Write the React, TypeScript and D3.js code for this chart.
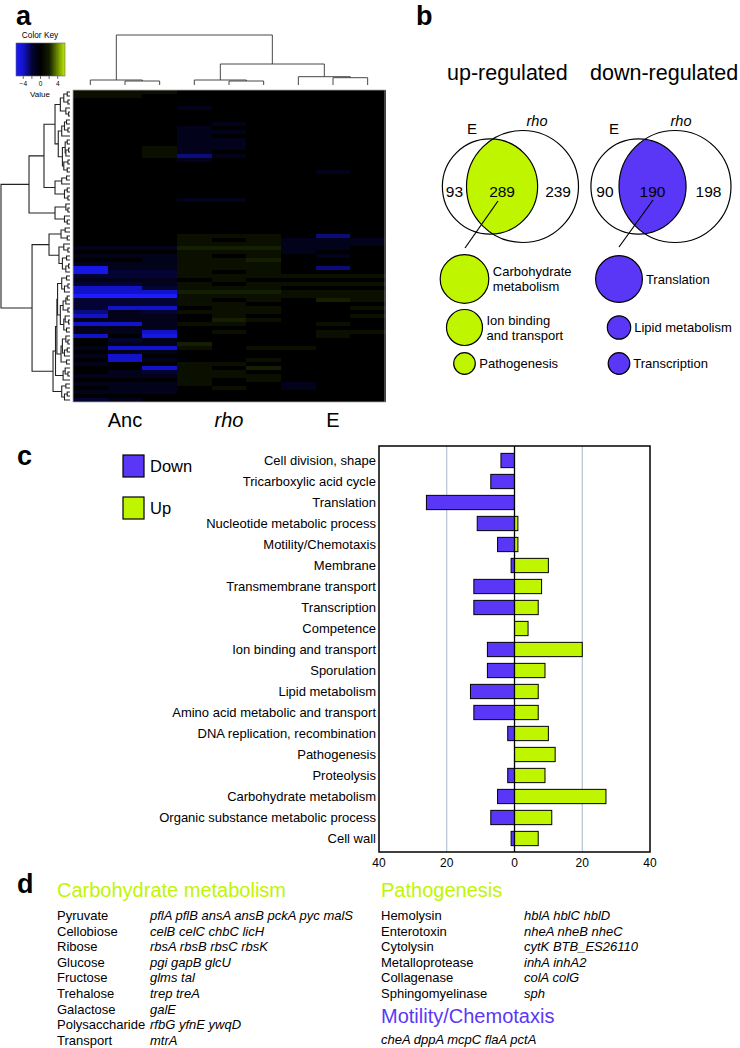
import React from 'react';
import * as d3 from 'd3';

// ---------- data ----------
// panel a: heatmap (rows x 9 samples: Anc1-3, rho1-3, E1-3)
const heatRows: number[][] = [
  [1, 1, 1, 0, 0, 0, 0, 0, 0],
  [1, 1, 0, 0, 0, 0, 0, 0, 0],
  [0, 0, 0, 0, 0, 0, 0, 0, 0],
  [0, 0, 0, 0, 0, 0, 0, 0, 0],
  [0, 0, 0, -1, 0, 0, 0, 0, 0],
  [0, 0, 0, 0, 0, 0, 0, 0, 0],
  [0, 0, 0, 0, 0, 0, 0, 0, 0],
  [0, 0, 0, 0, 0, 0, 0, 0, 0],
  [0, 0, 0, 0, -1, 0, 0, 0, 0],
  [0, 0, 0, -1, 0, 0, 0, 0, 0],
  [0, 0, 0, -1, -1, 0, 0, 0, 0],
  [0, 0, 0, -1, 0, 0, 0, 0, 0],
  [0, 0, 0, -1, -1, 0, 0, 0, 0],
  [0, 0, 0, -1, -1, 0, 0, 0, 0],
  [0, 0, 1, -1, -1, 0, 0, 0, 0],
  [0, 0, 1, -1, 0, 0, 0, 0, 0],
  [0, 0, 1, -3, -1, 0, 0, 0, 0],
  [0, 0, 0, -1, 0, 0, 0, 0, 0],
  [0, 0, 0, 0, 0, 0, 0, 0, 0],
  [0, 0, 0, 0, 0, 0, 0, 0, 0],
  [0, 0, 0, 0, 0, 0, 0, -1, 0],
  [0, 0, 0, 0, 0, 0, 0, 0, 0],
  [0, 0, 0, 0, 0, 0, 0, 0, 0],
  [0, 0, 0, 0, 0, 0, 0, 0, 0],
  [0, 0, 0, 0, 0, 0, 0, 0, 0],
  [0, 0, 0, 0, 0, 0, 0, 0, 0],
  [0, 0, 0, 0, 0, 0, 0, 0, 0],
  [0, 0, 0, -1, -1, 0, 0, 0, 0],
  [0, 0, 0, 0, 0, 0, 0, 0, 0],
  [0, 0, 0, 0, 0, 0, 0, 0, 0],
  [0, 0, 0, 0, 0, 0, 0, 0, 0],
  [0, 0, 0, 0, 0, 0, 0, 0, 0],
  [0, 0, 0, 0, 0, 0, 0, 0, 0],
  [0, 0, 0, 0, 0, 0, 0, 0, 0],
  [0, 0, 0, 0, 0, 0, 0, 0, 0],
  [0, 0, 0, 0, 0, 0, 0, 0, 0],
  [0, 0, 0, 1, 1, 1, 0, -3, 0],
  [0, 0, 0, 1, 0, 1, -1, -1, -1],
  [0, 0, 0, 1, 1, 1, -1, -1, -1],
  [-1, -1, -1, 2, 2, 2, -1, -1, 0],
  [0, 0, 0, 1, 1, 1, -1, 0, 0],
  [-1, -1, -1, 1, 0, 1, 0, -1, 0],
  [0, 0, -1, 1, 1, 2, 0, 0, 0],
  [-1, -1, -1, 1, 1, 1, 0, 0, 0],
  [-5, -1, -1, 1, 1, 1, 0, -3, 0],
  [-5, -2, -2, 1, 0, 1, 0, 0, 0],
  [-2, -2, -2, 1, 1, 1, 1, 1, 1],
  [-1, -1, -1, 0, 1, 0, 0, 0, 0],
  [-2, -2, -1, 1, 0, 1, 1, 1, 1],
  [-4, -4, -2, 1, 1, 1, 0, 0, 0],
  [-4, -4, -4, 2, 2, 2, 1, 1, 1],
  [-6, -6, -6, 1, 1, 1, 1, 1, 1],
  [-2, -2, -2, 1, 0, 1, 0, 2, 1],
  [-2, -2, -2, 1, 1, 0, 0, 0, 0],
  [-2, -4, -4, 0, 1, 1, 0, 0, 1],
  [-3, -1, -2, 1, 1, 1, 0, 0, 0],
  [-4, -1, -1, 0, 1, 0, 0, 0, 1],
  [-1, -1, -1, 0, 2, 1, 0, 0, 0],
  [-4, -4, -1, 1, 1, 0, 0, 1, 0],
  [-1, -1, -1, 0, 0, 0, 0, 0, 0],
  [-1, -1, -4, 0, 1, 0, 0, 1, 1],
  [-4, 0, -5, 0, 0, 0, 0, 1, 0],
  [0, -2, -1, 0, 0, 0, 0, 0, 0],
  [0, -1, -1, 2, 0, 0, 0, 0, 0],
  [-1, -4, -4, 1, 0, 1, 1, 0, 0],
  [0, -1, -1, 0, 0, 0, 0, 0, 0],
  [-1, -4, 0, 0, 0, 0, 0, 0, 0],
  [0, -4, -1, 0, 0, 1, 0, 0, 0],
  [-1, 0, 0, 1, 1, 0, 0, 0, 0],
  [0, 0, -4, 1, 0, 2, 0, 0, 0],
  [0, -1, -2, 1, 1, 0, 0, 0, 0],
  [-1, -1, -1, 1, 1, 1, 0, 0, 0],
  [0, 0, 0, 1, 0, 1, 0, 0, 0],
  [-1, -1, -1, 1, 0, 0, -1, 0, 0],
  [0, -1, -1, 0, 1, 0, -1, 0, 0],
  [-1, -1, -1, 0, 0, 0, 0, 0, 0],
  [0, 0, 0, 0, 0, 0, 0, 0, 0],
  [-2, -1, 0, 0, 0, 0, 0, 0, 0],
];
// merge height between neighbouring rows / columns (ordered dendrograms)
const rowGaps = [
  4, 9, 3, 14, 6, 2, 21.7, 5, 8, 3, 12, 17, 4, 7, 2, 6, 11, 3, 9, 4,
  37.7,
  5, 12, 21.7, 4, 8, 3,
  59.4,
  6, 3, 21.7, 8, 4,
  100,
  7, 13, 4, 30.4, 9, 3, 16, 5, 11, 2, 6,
  55,
  5, 12, 3, 8, 18, 4, 6, 10, 3, 14, 7, 2, 9, 5, 19, 6, 3, 11, 4, 8, 13, 5, 21, 7, 3, 10, 24.6, 6, 12, 4, 8,
];
const colGaps = [10, 8, 100, 10, 8, 42, 16.6, 14.6];
const groupLabels = ['Anc', 'rho', 'E'];
const keyTicks = [-4, -2, 0, 2, 4];
const keyTickLabels = ['\u22124', '', '0', '', '4'];

// panel b
const upCounts = [93, 289, 239];
const downCounts = [90, 190, 198];
const upTerms = ['Carbohydrate metabolism', 'Ion binding and transport', 'Pathogenesis'];
const upTermLines = [['Carbohydrate', 'metabolism'], ['Ion binding', 'and transport'], ['Pathogenesis']];
const downTerms = ['Translation', 'Lipid metabolism', 'Transcription'];

// panel c
const categories = [
  'Cell division, shape', 'Tricarboxylic acid cycle', 'Translation', 'Nucleotide metabolic process',
  'Motility/Chemotaxis', 'Membrane', 'Transmembrane transport', 'Transcription', 'Competence',
  'Ion binding and transport', 'Sporulation', 'Lipid metabolism', 'Amino acid metabolic and transport',
  'DNA replication, recombination', 'Pathogenesis', 'Proteolysis', 'Carbohydrate metabolism',
  'Organic substance metabolic process', 'Cell wall',
];
const downValues = [4, 7, 26, 11, 5, 1, 12, 12, 0, 8, 8, 13, 12, 2, 0, 2, 5, 7, 1];
const upValues = [0, 0, 0, 1, 1, 10, 8, 7, 4, 20, 9, 7, 7, 10, 12, 9, 27, 11, 7];
const xTicks = [-40, -20, 0, 20, 40];

// panel d
const carbLabels = ['Pyruvate', 'Cellobiose', 'Ribose', 'Glucose', 'Fructose', 'Trehalose', 'Galactose', 'Polysaccharide', 'Transport'];
const carbGenes = ['pflA pflB ansA ansB pckA pyc malS', 'celB celC chbC licH', 'rbsA rbsB rbsC rbsK', 'pgi gapB glcU', 'glms tal', 'trep treA', 'galE', 'rfbG yfnE ywqD', 'mtrA'];
const pathLabels = ['Hemolysin', 'Enterotoxin', 'Cytolysin', 'Metalloprotease', 'Collagenase', 'Sphingomyelinase'];
const pathGenes = ['hblA hblC hblD', 'nheA nheB nheC', 'cytK BTB_ES26110', 'inhA inhA2', 'colA colG', 'sph'];
const motilityGenes = 'cheA dppA mcpC flaA pctA';

const FONT = "'Liberation Sans', Arial, Helvetica, sans-serif";
const GREEN = '#c0f500';
const PURPLE = '#5a37f6';

type TNode = { h: number; pos: number; kids?: [TNode, TNode] };

function buildTree(gaps: number[], pos: (i: number) => number, lo: number, hi: number): TNode {
  if (lo === hi) return { h: 0, pos: pos(lo) };
  let k = lo;
  for (let i = lo; i < hi; i++) if (gaps[i] > gaps[k]) k = i;
  const a = buildTree(gaps, pos, lo, k);
  const b = buildTree(gaps, pos, k + 1, hi);
  return { h: gaps[k], pos: (a.pos + b.pos) / 2, kids: [a, b] };
}

function treePaths(n: TNode, seg: (n: TNode, a: TNode, b: TNode) => string, out: string[] = []) {
  if (!n.kids) return out;
  const [a, b] = n.kids;
  out.push(seg(n, a, b));
  treePaths(a, seg, out);
  treePaths(b, seg, out);
  return out;
}

function HeatmapPanel() {
  const colX = d3.scaleBand<number>().domain(d3.range(9)).range([73, 385]);
  const rowY = d3.scaleBand<number>().domain(d3.range(heatRows.length)).range([90, 402]);
  const color = d3.scaleLinear<string>()
    .domain([-6, -4, -2, 0, 2, 6])
    .range(['#1c1cff', '#1212c8', '#030334', '#000000', '#141e00', '#ccff00'])
    .clamp(true);

  const rowX = d3.scaleLinear().domain([0, 100]).range([70, 1]);
  const rowTree = buildTree(rowGaps, (i) => rowY(i)! + rowY.bandwidth() / 2, 0, heatRows.length - 1);
  const rowPaths = treePaths(rowTree, (n, a, b) =>
    `M${rowX(a.h)},${a.pos}H${rowX(n.h)}V${b.pos}H${rowX(b.h)}`);

  const colY = d3.scaleLinear().domain([0, 100]).range([85, 35]);
  const colTree = buildTree(colGaps, (i) => colX(i)! + colX.bandwidth() / 2, 0, 8);
  const colPaths = treePaths(colTree, (n, a, b) =>
    `M${a.pos},${colY(a.h)}V${colY(n.h)}H${b.pos}V${colY(b.h)}`);

  const keyX = d3.scaleLinear().domain([-5.7, 5.7]).range([16, 65]);
  const keySteps = d3.range(-5.7, 5.7, 0.1);

  return (
    <g>
      <text x={16} y={25} fontSize={27} fontWeight="bold">a</text>
      {/* colour key */}
      <text x={40} y={38} fontSize={8.3} textAnchor="middle">Color Key</text>
      {keySteps.map((v, i) => (
        <rect key={i} x={keyX(v)} y={43} width={keyX(v + 0.1) - keyX(v) + 0.3} height={33} fill={color(v)} shapeRendering="crispEdges" />
      ))}
      <rect x={16} y={43} width={49} height={33} fill="none" stroke="#666" strokeWidth={0.6} />
      {keyTicks.map((t, i) => (
        <g key={t}>
          <line x1={keyX(t)} x2={keyX(t)} y1={76} y2={79} stroke="#333" strokeWidth={0.7} />
          <text x={keyX(t)} y={86} fontSize={6.5} textAnchor="middle">{keyTickLabels[i]}</text>
        </g>
      ))}
      <text x={40} y={97} fontSize={8} textAnchor="middle">Value</text>

      {/* dendrograms */}
      <g fill="none" stroke="#333" strokeWidth={0.9}>
        {colPaths.map((d, i) => <path key={i} d={d} />)}
      </g>
      <g fill="none" stroke="#222" strokeWidth={1.1}>
        {rowPaths.map((d, i) => <path key={i} d={d} />)}
      </g>

      {/* heatmap */}
      <g shapeRendering="crispEdges">
        {heatRows.map((row, r) =>
          row.map((v, c) => (
            <rect key={`${r}-${c}`} x={colX(c)} y={rowY(r)} width={colX.bandwidth() + 0.5}
              height={rowY.bandwidth() + 0.3} fill={color(v)} />
          )))}
      </g>
      <rect x={73} y={90} width={312} height={312} fill="none" stroke="#aaa" strokeWidth={0.8} />

      {groupLabels.map((g, i) => (
        <text key={g} x={colX(i * 3 + 1)! + colX.bandwidth() / 2} y={427} fontSize={20} textAnchor="middle"
          fontStyle={g === 'rho' ? 'italic' : 'normal'}>{g}</text>
      ))}
    </g>
  );
}

function Venn({ counts, cxE, cxRho, color, eLabelX, rhoLabelX, lineFrom, lineTo }:
  { counts: number[]; cxE: number; cxRho: number; color: string; eLabelX: number; rhoLabelX: number; lineFrom: number[]; lineTo: number[] }) {
  const cy = 186.5;
  const r = d3.scaleSqrt().domain([0, counts[1] + counts[2]]).range([0, 56]);
  const rE = r(counts[0] + counts[1]);
  const rR = r(counts[1] + counts[2]);
  const id = `clip-${cxE}`;
  const eL = cxE - rE, eR = cxE + rE, rL = cxRho - rR, rRt = cxRho + rR;
  const labelXs = [(eL + rL) / 2, (rL + eR) / 2, (eR + rRt) / 2];
  return (
    <g>
      <defs>
        <clipPath id={id}><circle cx={cxRho} cy={cy} r={rR} /></clipPath>
      </defs>
      <circle cx={cxE} cy={cy} r={rE} fill={color} clipPath={`url(#${id})`} />
      <circle cx={cxE} cy={cy} r={rE} fill="none" stroke="#000" strokeWidth={1.2} />
      <circle cx={cxRho} cy={cy} r={rR} fill="none" stroke="#000" strokeWidth={1.2} />
      <text x={eLabelX} y={134} fontSize={15} textAnchor="middle">E</text>
      <text x={rhoLabelX} y={126} fontSize={14.5} fontStyle="italic" textAnchor="middle">rho</text>
      {counts.map((c, i) => (
        <text key={i} x={labelXs[i]} y={197} fontSize={15.5} textAnchor="middle">{c}</text>
      ))}
      <line x1={lineFrom[0]} y1={lineFrom[1]} x2={lineTo[0]} y2={lineTo[1]} stroke="#000" strokeWidth={1.2} />
    </g>
  );
}

function VennPanel() {
  const bubble = d3.scaleLinear().domain([0, 27]).range([0, 24.3]);
  const bubbleY = [279, 327.5, 363.5];
  const upV = upTerms.map((t) => upValues[categories.indexOf(t)]);
  const downV = downTerms.map((t) => downValues[categories.indexOf(t)]);
  return (
    <g>
      <text x={416} y={25} fontSize={27} fontWeight="bold">b</text>
      <text x={447} y={80} fontSize={21.5}>up-regulated</text>
      <text x={590} y={80} fontSize={21.5}>down-regulated</text>
      <Venn counts={upCounts} cxE={490} cxRho={522.5} color={GREEN} eLabelX={472} rhoLabelX={537}
        lineFrom={[498, 201]} lineTo={[465, 248]} />
      <Venn counts={downCounts} cxE={638.5} cxRho={675} color={PURPLE} eLabelX={614} rhoLabelX={681}
        lineFrom={[653, 200]} lineTo={[619, 247]} />
      {upV.map((v, i) => {
        const r = bubble(v);
        const lines = upTermLines[i];
        return (
          <g key={i}>
            <circle cx={464.5} cy={bubbleY[i]} r={r} fill={GREEN} stroke="#000" strokeWidth={1.2} />
            {lines.map((l, j) => (
              <text key={j} x={464.5 + r + 4} y={bubbleY[i] + (j - (lines.length - 1) / 2) * 15 + 4.5} fontSize={13}>{l}</text>
            ))}
          </g>
        );
      })}
      {downV.map((v, i) => {
        const r = bubble(v);
        return (
          <g key={i}>
            <circle cx={619} cy={bubbleY[i]} r={r} fill={PURPLE} stroke="#000" strokeWidth={1.2} />
            <text x={619 + r + 3.5} y={bubbleY[i] + 4.5} fontSize={13}>{downTerms[i]}</text>
          </g>
        );
      })}
    </g>
  );
}

function BarPanel() {
  const x = d3.scaleLinear().domain([-40, 40]).range([379, 650]);
  const y = d3.scaleBand<string>().domain(categories).range([450, 849]).paddingInner(0.32).paddingOuter(0.16);
  const top = 446, bottom = 852;
  return (
    <g>
      <text x={17} y={465} fontSize={27} fontWeight="bold">c</text>
      <rect x={123} y={455} width={21} height={22} fill={PURPLE} stroke="#000" strokeWidth={1.2} />
      <text x={150} y={472} fontSize={16.5}>Down</text>
      <rect x={123} y={497} width={21} height={22} fill={GREEN} stroke="#000" strokeWidth={1.2} />
      <text x={150} y={514} fontSize={16.5}>Up</text>

      {[-20, 20].map((t) => (
        <line key={t} x1={x(t)} x2={x(t)} y1={top} y2={bottom} stroke="#a4b8c8" strokeWidth={1} />
      ))}
      {categories.map((c, i) => (
        <g key={c}>
          <text x={376} y={y(c)! + y.bandwidth() / 2} dy="0.35em" fontSize={13} textAnchor="end">{c}</text>
          {downValues[i] > 0 && (
            <rect x={x(-downValues[i])} y={y(c)} width={x(0) - x(-downValues[i])} height={y.bandwidth()}
              fill={PURPLE} stroke="#000" strokeWidth={1} />
          )}
          {upValues[i] > 0 && (
            <rect x={x(0)} y={y(c)} width={x(upValues[i]) - x(0)} height={y.bandwidth()}
              fill={GREEN} stroke="#000" strokeWidth={1} />
          )}
        </g>
      ))}
      <line x1={x(0)} x2={x(0)} y1={top} y2={bottom} stroke="#000" strokeWidth={1.3} />
      <rect x={x(-40)} y={top} width={x(40) - x(-40)} height={bottom - top} fill="none" stroke="#000" strokeWidth={1.5} />
      {xTicks.map((t) => (
        <text key={t} x={x(t)} y={867} fontSize={12} textAnchor="middle">{Math.abs(t)}</text>
      ))}
    </g>
  );
}

function GenePanel() {
  const rowStep = 15.6;
  return (
    <g>
      <text x={17} y={893} fontSize={27} fontWeight="bold">d</text>
      <text x={57} y={897} fontSize={20} fill={GREEN}>Carbohydrate metabolism</text>
      {carbLabels.map((l, i) => (
        <g key={l}>
          <text x={57} y={920 + i * rowStep} fontSize={13}>{l}</text>
          <text x={150} y={920 + i * rowStep} fontSize={13} fontStyle="italic">{carbGenes[i]}</text>
        </g>
      ))}
      <text x={381} y={897} fontSize={20} fill={GREEN}>Pathogenesis</text>
      {pathLabels.map((l, i) => (
        <g key={l}>
          <text x={381} y={920 + i * rowStep} fontSize={13}>{l}</text>
          <text x={524} y={920 + i * rowStep} fontSize={13} fontStyle="italic">{pathGenes[i]}</text>
        </g>
      ))}
      <text x={381} y={1023} fontSize={20} fill={PURPLE}>Motility/Chemotaxis</text>
      <text x={381} y={1044} fontSize={13} fontStyle="italic">{motilityGenes}</text>
    </g>
  );
}

export default function App() {
  return (
    <svg width={740} height={1048} fontFamily={FONT}
      style={{ position: 'absolute', left: 0, top: 0, background: '#fff', display: 'block' }}>
      <HeatmapPanel />
      <VennPanel />
      <BarPanel />
      <GenePanel />
    </svg>
  );
}
